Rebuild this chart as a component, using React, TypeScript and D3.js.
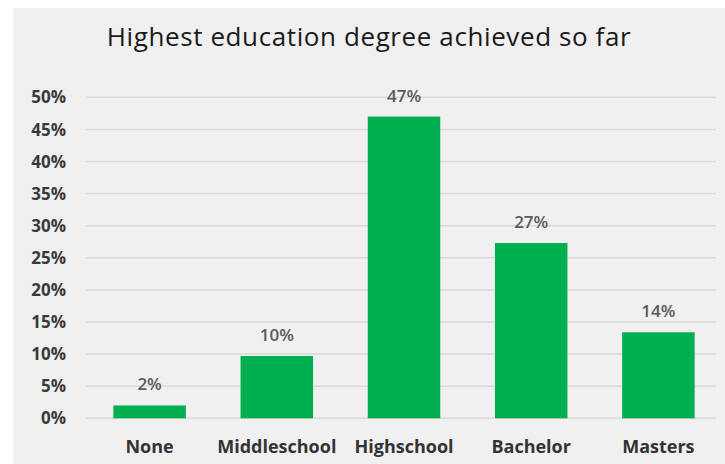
import * as d3 from 'd3';
import React, { useEffect, useRef } from 'react';

const categories = ['None', 'Middleschool', 'Highschool', 'Bachelor', 'Masters'];
const shares = [2, 9.7, 47, 27.3, 13.4];
const shareLabels = ['2%', '10%', '47%', '27%', '14%'];
const yTicks = [0, 5, 10, 15, 20, 25, 30, 35, 40, 45, 50];

const font = '"Open Sans", Lato, sans-serif';

const BarChart = () => {
  const svgRef = useRef(null);

  const renderSvg = () => {
    const width = 725;
    const height = 464;
    const left = 86;
    const right = 722;
    const top = 97.3;
    const bottom = 418.3;

    const svg = d3.select(svgRef.current);
    svg.selectAll('*').remove();

    svg.append('rect').attr('width', width).attr('height', height).style('fill', '#ffffff');
    svg
      .append('rect')
      .attr('x', 13)
      .attr('y', 8)
      .attr('width', width - 13)
      .attr('height', height - 8)
      .style('fill', '#f0f0f0');

    const xScale = d3.scaleBand().domain(categories).range([left, right]).paddingInner(0.43).paddingOuter(0.215);
    const yScale = d3.scaleLinear().domain([0, 50]).range([bottom, top]);

    // gridlines
    svg
      .append('g')
      .selectAll('line')
      .data(yTicks)
      .enter()
      .append('line')
      .attr('x1', left)
      .attr('x2', 716)
      .attr('y1', (d) => yScale(d))
      .attr('y2', (d) => yScale(d))
      .style('stroke', '#d9d9d9')
      .style('stroke-width', 1.5);

    // y tick labels
    svg
      .append('g')
      .selectAll('text')
      .data(yTicks)
      .enter()
      .append('text')
      .attr('x', 66)
      .attr('y', (d) => yScale(d))
      .attr('dy', '0.36em')
      .attr('text-anchor', 'end')
      .style('font-family', font)
      .style('font-weight', 'bold')
      .style('font-size', '17px')
      .style('fill', '#3a3a3a')
      .text((d) => d + '%');

    // bars
    svg
      .append('g')
      .selectAll('rect')
      .data(shares)
      .enter()
      .append('rect')
      .attr('x', (d, i) => xScale(categories[i]))
      .attr('y', (d) => yScale(d))
      .attr('width', xScale.bandwidth())
      .attr('height', (d) => bottom - yScale(d))
      .style('fill', '#00b050');

    // value labels
    svg
      .append('g')
      .selectAll('text')
      .data(shares)
      .enter()
      .append('text')
      .attr('x', (d, i) => xScale(categories[i]) + xScale.bandwidth() / 2)
      .attr('y', (d) => yScale(d) - 15)
      .attr('text-anchor', 'middle')
      .style('font-family', font)
      .style('font-weight', 600)
      .style('font-size', '17px')
      .style('fill', '#595959')
      .text((d, i) => shareLabels[i]);

    // category labels
    svg
      .append('g')
      .selectAll('text')
      .data(categories)
      .enter()
      .append('text')
      .attr('x', (d) => xScale(d) + xScale.bandwidth() / 2)
      .attr('y', 453)
      .attr('text-anchor', 'middle')
      .style('font-family', font)
      .style('font-weight', 'bold')
      .style('font-size', '18px')
      .style('fill', '#333333')
      .text((d) => d);

    svg
      .append('text')
      .attr('x', 369)
      .attr('y', 46)
      .attr('text-anchor', 'middle')
      .style('font-family', font)
      .style('font-size', '26px')
      .style('letter-spacing', '0.6px')
      .style('fill', '#1a1a1a')
      .text('Highest education degree achieved so far');
  };

  useEffect(() => {
    renderSvg();
  }, []);

  return (
    <svg
      ref={svgRef}
      width={725}
      height={464}
      style={{ position: 'absolute', left: 0, top: 0 }}
    />
  );
};

export default BarChart;
